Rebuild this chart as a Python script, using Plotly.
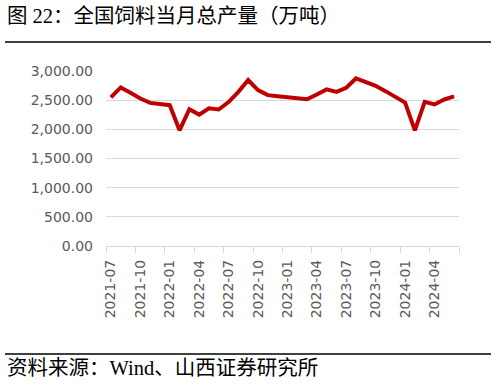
import plotly.graph_objects as go

# ---- data ----
months = [
    "2021-07", "2021-08", "2021-09", "2021-10", "2021-11", "2021-12",
    "2022-01", "2022-02", "2022-03", "2022-04", "2022-05", "2022-06",
    "2022-07", "2022-08", "2022-09", "2022-10", "2022-11", "2022-12",
    "2023-01", "2023-02", "2023-03", "2023-04", "2023-05", "2023-06",
    "2023-07", "2023-08", "2023-09", "2023-10", "2023-11", "2023-12",
    "2024-01", "2024-02", "2024-03", "2024-04", "2024-05", "2024-06",
]
output_wt = [
    2547, 2719, 2626, 2529, 2453, 2431,
    2414, 1983, 2345, 2253, 2362, 2340,
    2468, 2643, 2845, 2672, 2586, 2569,
    2552, 2534, 2517, 2598, 2684, 2643,
    2713, 2874, 2816, 2747, 2655, 2557,
    2460, 1983, 2471, 2426, 2512, 2564,
]
label_months = months[::3]
y_ticks = [0, 500, 1000, 1500, 2000, 2500, 3000]

title_text = "图 22：全国饲料当月总产量（万吨）"
source_text = "资料来源：Wind、山西证券研究所"

# ---- layout geometry ----
W, H = 496, 384
ML, MR, MT, MB = 106, 37, 71, 138
PW, PH = W - ML - MR, H - MT - MB


def px_x(px):
    return (px - ML) / PW


def px_y(py):
    return (H - MB - py) / PH


positions = list(range(len(months)))
boundaries = [i - 0.5 for i in range(0, len(months) + 1, 3)]

axis_font = dict(family="DejaVu Sans", size=14, color="#595959")
text_font = "Liberation Serif, Noto Sans CJK SC"

fig = go.Figure()
fig.add_trace(go.Scatter(
    x=months, y=output_wt, mode="lines",
    line=dict(color="#C00000", width=4),
    showlegend=False,
))
# helper trace so the boundary-tick axis is drawn
fig.add_trace(go.Scatter(
    x=positions, y=output_wt, xaxis="x2", mode="lines",
    line=dict(width=0, color="rgba(0,0,0,0)"),
    showlegend=False, hoverinfo="skip",
))

fig.update_layout(
    width=W, height=H,
    margin=dict(l=ML, r=MR, t=MT, b=MB),
    paper_bgcolor="white", plot_bgcolor="white",
    xaxis=dict(
        type="category", range=[-0.5, len(months) - 0.5],
        tickmode="array", tickvals=label_months, ticktext=label_months,
        tickangle=-90, tickfont=axis_font, ticks="",
        showgrid=False, showline=False, zeroline=False,
        ticklabelstandoff=10, automargin=False,
    ),
    xaxis2=dict(
        overlaying="x", anchor="y", side="bottom",
        range=[-0.5, len(months) - 0.5],
        tickmode="array", tickvals=boundaries, showticklabels=False,
        ticks="outside", ticklen=6, tickcolor="#d9d9d9", tickwidth=1,
        showline=True, linecolor="#d9d9d9", linewidth=1,
        showgrid=False, zeroline=False, automargin=False,
    ),
    yaxis=dict(
        range=[0, 3000], tickmode="array", tickvals=y_ticks,
        tickformat=",.2f", tickfont=axis_font,
        showgrid=True, gridcolor="#d9d9d9", gridwidth=1,
        zeroline=False, showline=False, ticks="",
        ticklabelstandoff=12, automargin=False,
    ),
    annotations=[
        dict(text=title_text, xref="paper", yref="paper",
             x=px_x(5), y=px_y(16), xanchor="left", yanchor="middle",
             showarrow=False, font=dict(family=text_font, size=20.5, color="#000000")),
        dict(text=source_text, xref="paper", yref="paper",
             x=px_x(5), y=px_y(368), xanchor="left", yanchor="middle",
             showarrow=False, font=dict(family=text_font, size=20.5, color="#000000")),
    ],
    shapes=[
        dict(type="line", xref="paper", yref="paper",
             x0=px_x(5), x1=px_x(491), y0=px_y(42), y1=px_y(42),
             line=dict(color="#000000", width=1.3)),
        dict(type="line", xref="paper", yref="paper",
             x0=px_x(5), x1=px_x(491), y0=px_y(354), y1=px_y(354),
             line=dict(color="#000000", width=1.3)),
    ],
)

fig.write_html(
    "out.html",
    config={"displayModeBar": False},
    post_script="document.body.style.margin='0';document.body.style.overflow='hidden';",
)
